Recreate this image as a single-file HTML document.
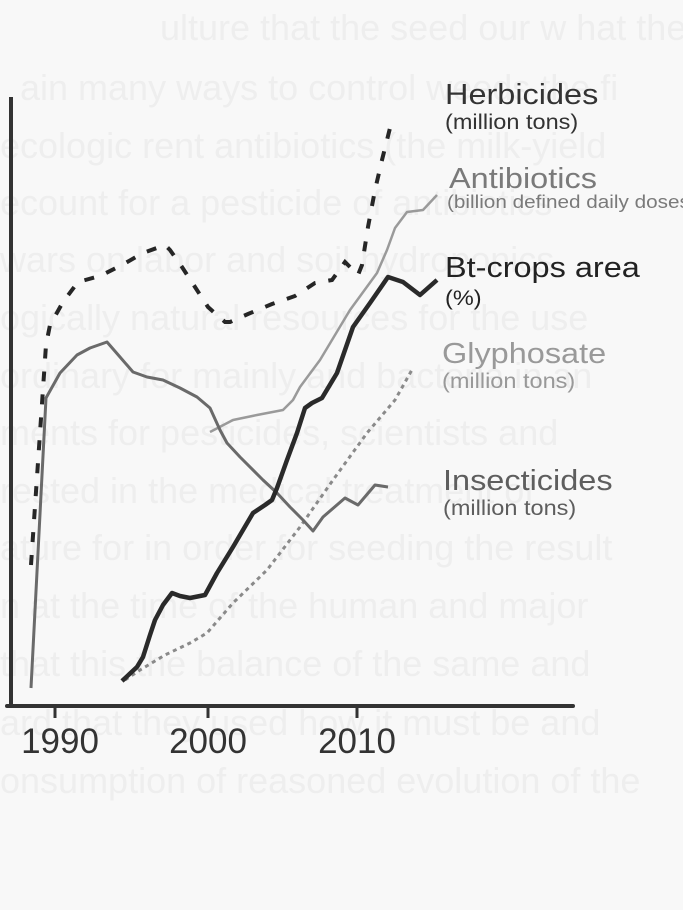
<!DOCTYPE html>
<html>
<head>
<meta charset="utf-8">
<style>
  html, body { margin: 0; padding: 0; background: #f8f8f8; }
  svg { display: block; }
  .bleed { font-family: "Liberation Sans", sans-serif; font-size: 36px; fill: #eeeeee; }
  .lab { font-family: "Liberation Sans", sans-serif; }
</style>
</head>
<body>
<svg width="683" height="910" viewBox="0 0 683 910" xmlns="http://www.w3.org/2000/svg">
  <rect x="0" y="0" width="683" height="910" fill="#f8f8f8"/>

  <!-- faint bleed-through text from the reverse page -->
  <g class="bleed">
    <text x="160" y="40">ulture that the seed our w hat the</text>
    <text x="20" y="100">ain many ways to control weeds the fi</text>
    <text x="0" y="158">ecologic rent antibiotics (the milk-yield</text>
    <text x="0" y="215">ecount for a pesticide of antibiotics</text>
    <text x="0" y="272">wars on labor and soil hydroponics</text>
    <text x="0" y="330">ogically natural resources for the use</text>
    <text x="0" y="388">ordinary for mainly and bacteria in an</text>
    <text x="0" y="445">ments for pesticides, scientists and</text>
    <text x="0" y="503">rested in the medical treatment of</text>
    <text x="0" y="560">ature for in order for seeding the result</text>
    <text x="0" y="618">n at the time of the human and major</text>
    <text x="0" y="676">that this the balance of the same and</text>
    <text x="0" y="735">ard that they used how it must be and</text>
    <text x="0" y="793">onsumption of reasoned evolution of the</text>
  </g>

  <!-- axes -->
  <line x1="11" y1="97" x2="11" y2="708" stroke="#333" stroke-width="4"/>
  <line x1="7" y1="706" x2="573" y2="706" stroke="#333" stroke-width="4" stroke-linecap="round"/>
  <line x1="55" y1="706" x2="55" y2="718" stroke="#333" stroke-width="3"/>
  <line x1="208" y1="706" x2="208" y2="718" stroke="#333" stroke-width="3"/>
  <line x1="357" y1="706" x2="357" y2="718" stroke="#333" stroke-width="3"/>

  <!-- tick labels -->
  <g class="lab" fill="#333" font-size="35" text-anchor="middle">
    <text x="60" y="753">1990</text>
    <text x="208" y="753">2000</text>
    <text x="357" y="753">2010</text>
  </g>

  <!-- Glyphosate (dotted) -->
  <polyline fill="none" stroke="#8a8a8a" stroke-width="3" stroke-dasharray="4 4"
    points="125,680 140,670 165,655 190,643 207,633 233,603 267,570 300,527 333,480 367,433 395,400 413,368"/>

  <!-- Antibiotics (light gray) -->
  <polyline fill="none" stroke="#9a9a9a" stroke-width="2.5" stroke-linejoin="round"
    points="210,432 233,420 257,415 283,410 293,400 300,387 320,360 350,310 377,273 387,250 395,228 407,212 423,210 437,195"/>

  <!-- Insecticides (mid gray) -->
  <polyline fill="none" stroke="#6a6a6a" stroke-width="3" stroke-linejoin="round"
    points="31,688 46,398 60,373 77,355 90,348 107,342 120,357 133,372 147,377 163,380 180,388 197,397 210,408 220,430 227,443 240,457 263,480 277,493 290,507 303,520 313,531 323,517 345,498 358,505 375,485 388,487"/>

  <!-- Herbicides (dashed) -->
  <polyline fill="none" stroke="#262626" stroke-width="4" stroke-dasharray="10 13"
    points="31,565 46,345 50,325 63,302 78,282 100,276 122,265 143,253 165,245 170,250 182,267 195,287 208,307 225,322 230,322 248,314 272,304 295,296 315,283 332,280 345,262 358,275 362,265 368,227 375,190 382,160 390,128"/>

  <!-- Bt-crops area (thick black) -->
  <polyline fill="none" stroke="#2a2a2a" stroke-width="4.5" stroke-linejoin="round"
    points="122,681 137,667 143,657 150,635 155,620 163,605 172,593 180,596 190,598 205,595 217,573 233,547 253,513 265,505 272,500 277,488 287,460 297,433 305,408 312,403 322,398 337,373 353,327 370,303 388,277 403,282 420,295 437,280"/>

  <!-- series labels -->
  <g class="lab">
    <g transform="translate(445,104) scale(1.12,1)">
      <text font-size="29" fill="#333">Herbicides</text>
    </g>
    <g transform="translate(445,129) scale(1.12,1)">
      <text font-size="21" fill="#333">(million tons)</text>
    </g>

    <g transform="translate(449,188) scale(1.12,1)">
      <text font-size="29" fill="#7a7a7a">Antibiotics</text>
    </g>
    <g transform="translate(447,208) scale(1.12,1)">
      <text font-size="18.5" fill="#7a7a7a">(billion defined daily doses)</text>
    </g>

    <g transform="translate(445,277) scale(1.12,1)">
      <text font-size="29" fill="#222">Bt-crops area</text>
    </g>
    <g transform="translate(445,305) scale(1.12,1)">
      <text font-size="21" fill="#222">(%)</text>
    </g>

    <g transform="translate(442,363) scale(1.12,1)">
      <text font-size="29" fill="#999">Glyphosate</text>
    </g>
    <g transform="translate(442,388) scale(1.12,1)">
      <text font-size="21" fill="#999">(million tons)</text>
    </g>

    <g transform="translate(443,490) scale(1.12,1)">
      <text font-size="29" fill="#5e5e5e">Insecticides</text>
    </g>
    <g transform="translate(443,515) scale(1.12,1)">
      <text font-size="21" fill="#5e5e5e">(million tons)</text>
    </g>
  </g>
</svg>
</body>
</html>
